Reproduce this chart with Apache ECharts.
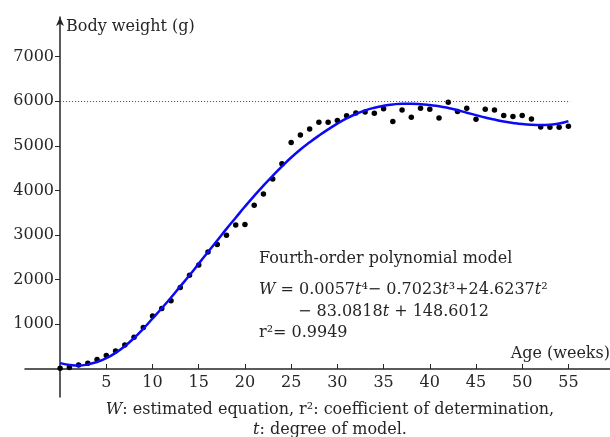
<!DOCTYPE html>
<html>
<head>
    <meta charset="utf-8">
    <style>
        html, body {
            margin: 0;
            padding: 0;
            background: #fff;
        }

        #chart {
            width: 610px;
            height: 437px;
        }
    </style>
</head>
<body>
    <div id="chart"></div>
    <script src="https://cdn.jsdelivr.net/npm/echarts@6/dist/echarts.min.js"></script>
    <script>
        // observed body weight (g) per week
        var weeks = [0, 1, 2, 3, 4, 5, 6, 7, 8, 9, 10, 11, 12, 13, 14, 15, 16, 17, 18, 19,
            20, 21, 22, 23, 24, 25, 26, 27, 28, 29, 30, 31, 32, 33, 34, 35, 36, 37, 38, 39,
            40, 41, 42, 43, 44, 45, 46, 47, 48, 49, 50, 51, 52, 53, 54, 55];
        var bodyWeight = [15, 30, 90, 128, 210, 300, 403, 538, 710, 927, 1188, 1355, 1528, 1825, 2100, 2332, 2623, 2790, 2995, 3225,
            3236, 3670, 3924, 4255, 4600, 5078, 5247, 5381, 5531, 5531, 5570, 5675, 5740, 5760, 5733, 5833, 5545, 5807, 5643, 5845,
            5823, 5625, 5980, 5770, 5845, 5598, 5823, 5807, 5680, 5657, 5680, 5605, 5426, 5419, 5419, 5441];

        // fitted curve
        var fitWeight = [130, 90, 75, 100, 155, 240, 360, 510, 690, 900, 1130, 1360, 1600, 1850, 2100, 2360, 2620, 2880, 3140, 3390,
            3640, 3880, 4110, 4330, 4540, 4740, 4920, 5080, 5230, 5370, 5500, 5615, 5715, 5795, 5855, 5900, 5930, 5945, 5945, 5935,
            5915, 5890, 5850, 5800, 5745, 5690, 5635, 5590, 5545, 5515, 5490, 5475, 5470, 5475, 5500, 5555];

        var xTicks = [5, 10, 15, 20, 25, 30, 35, 40, 45, 50, 55];
        var yTicks = [1000, 2000, 3000, 4000, 5000, 6000, 7000];
        var refLine = 6000;

        var serif = 'DejaVu Serif';
        var ink = '#262626';

        var dots = weeks.map(function (w, i) { return [w, bodyWeight[i]]; });
        var curve = weeks.map(function (w, i) { return [w, fitWeight[i]]; });

        var myChart = echarts.init(document.getElementById('chart'));

        var rich = {
            i: { fontFamily: serif, fontSize: 16, fontStyle: 'italic', color: ink }
        };

        function txt(x, y, text, size, align) {
            return {
                type: 'text',
                x: x,
                y: y,
                style: {
                    text: text,
                    font: size + 'px "' + serif + '"',
                    fill: ink,
                    align: align || 'left',
                    verticalAlign: 'middle',
                    rich: rich
                }
            };
        }

        var plain = function (v) { return String(v); };

        var option = {
            animation: false,
            backgroundColor: '#fff',
            grid: { left: 25, right: 0, top: 17, bottom: 40, outerBoundsMode: 'none', containLabel: false },
            xAxis: {
                type: 'value',
                min: -3.8,
                max: 59.5,
                position: 'bottom',
                offset: -28,
                splitLine: { show: false },
                axisLine: { onZero: false, lineStyle: { color: ink, width: 1.5 } },
                axisTick: { inside: true, length: 5, customValues: xTicks, lineStyle: { color: ink } },
                axisLabel: { customValues: xTicks, formatter: plain, margin: 6, fontFamily: serif, fontSize: 16, color: ink }
            },
            yAxis: {
                type: 'value',
                min: -630,
                max: 7890,
                position: 'left',
                offset: -35,
                splitLine: { show: false },
                axisLine: {
                    onZero: false,
                    symbol: ['none', 'arrow'],
                    symbolSize: [6, 9],
                    lineStyle: { color: ink, width: 1.5 }
                },
                axisTick: { length: 5, customValues: yTicks, lineStyle: { color: ink } },
                axisLabel: { customValues: yTicks, formatter: plain, margin: 6, fontFamily: serif, fontSize: 16, color: ink }
            },
            series: [
                {
                    type: 'scatter',
                    data: dots,
                    symbolSize: 5.5,
                    itemStyle: { color: '#000', opacity: 1 },
                    z: 3,
                    markLine: {
                        silent: true,
                        symbol: 'none',
                        label: { show: false },
                        lineStyle: { type: [1, 2], color: '#444', width: 1 },
                        data: [[{ coord: [0, refLine] }, { coord: [55.2, refLine] }]]
                    }
                },
                {
                    type: 'line',
                    data: curve,
                    smooth: true,
                    showSymbol: false,
                    lineStyle: { color: '#0a0af5', width: 2.5 },
                    z: 4
                }
            ],
            graphic: [
                txt(66, 27, 'Body weight (g)', 16),
                txt(610, 354, 'Age (weeks)', 16, 'right'),
                txt(259, 259, 'Fourth-order polynomial model', 16),
                txt(259, 290, '{i|W} = 0.0057{i|t}⁴− 0.7023{i|t}³+24.6237{i|t}²', 16),
                txt(298, 312, '− 83.0818{i|t} + 148.6012', 16),
                txt(259, 333, 'r²= 0.9949', 16),
                txt(330, 410, '{i|W}: estimated equation, r²: coefficient of determination,', 16, 'center'),
                txt(330, 430, '{i|t}: degree of model.', 16, 'center')
            ]
        };

        myChart.setOption(option);
    </script>
</body>
</html>
